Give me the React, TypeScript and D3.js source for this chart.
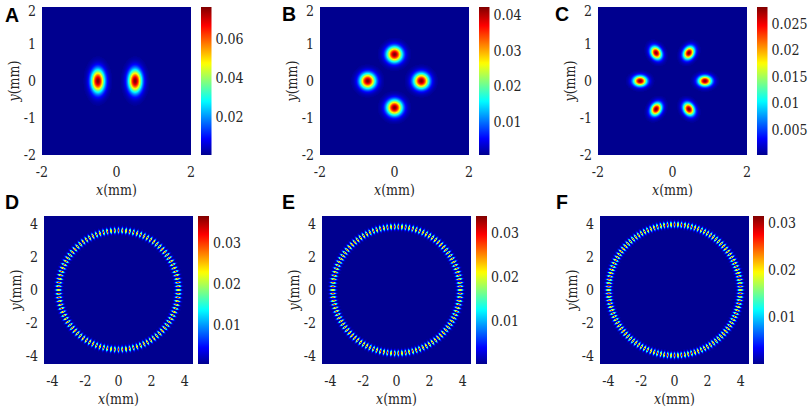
import React, { useMemo } from "react";
import * as d3 from "d3";

// ---------- data ----------
const panelLetters = ["A", "B", "C", "D", "E", "F"];

// spot centres (mm) for the top row
const spotsA: [number, number][] = [[-0.5, 0], [0.5, 0]];
const spotsB: [number, number][] = [[0, 0.72], [0.72, 0], [0, -0.72], [-0.72, 0]];
const spotsC: [number, number][] = [
  [0.87, 0], [0.44, 0.76], [-0.44, 0.76], [-0.87, 0], [-0.44, -0.76], [0.44, -0.76],
];
// spot widths (mm): radial, tangential
const spotSigmaA: [number, number] = [0.125, 0.215];
const spotSigmaB: [number, number] = [0.145, 0.145];
const spotSigmaC: [number, number] = [0.125, 0.095];

// ring panels D, E, F
const ringRadius = [3.62, 3.85, 3.98];
const ringSpotCount = [100, 110, 120];
const ringSigmaRadial = [0.11, 0.11, 0.11];
const ringSigmaTangential = [0.032, 0.032, 0.032];

// colour ranges and colourbar ticks
const colorMin = [0.0005, 0.0008, 0.0003, 0.0005, 0.0002, 0.0001];
const colorMax = [0.0764, 0.0422, 0.0282, 0.0366, 0.0339, 0.0315];
const colorTicks = [
  [0.02, 0.04, 0.06],
  [0.01, 0.02, 0.03, 0.04],
  [0.005, 0.01, 0.015, 0.02, 0.025],
  [0.01, 0.02, 0.03],
  [0.01, 0.02, 0.03],
  [0.01, 0.02, 0.03],
];

// axes
const smallExtent = 2;
const largeExtent = 4.5;
const smallXTicks = [-2, 0, 2];
const smallYTicks = [-2, -1, 0, 1, 2];
const largeXTicks = [-4, -2, 0, 2, 4];
const largeYTicks = [-4, -2, 0, 2, 4];

// ---------- layout ----------
const PW = 149;
const PH = 148;
const layout = [
  { left: 42, top: 7, cb: 201, cbw: 10.5, lx: 5, ly: 22 },
  { left: 320, top: 7, cb: 479, cbw: 10.5, lx: 282, ly: 21 },
  { left: 598, top: 7, cb: 757, cbw: 10.5, lx: 555, ly: 21 },
  { left: 44, top: 216, cb: 198, cbw: 11, lx: 5, ly: 209 },
  { left: 322, top: 216, cb: 476, cbw: 11, lx: 282, ly: 209 },
  { left: 600, top: 216, cb: 753, cbw: 11, lx: 556, ly: 209 },
];

const TICK_FONT = '"DejaVu Serif Condensed", "DejaVu Serif", serif';
const LETTER_FONT = '"Liberation Sans", Arial, Helvetica, sans-serif';
const TEXT_COLOR = "#262626";

// MATLAB jet(64), continuous
function jet(t: number): string {
  const p = 1 + Math.max(0, Math.min(1, t)) * 63;
  const r = p <= 24 ? 0 : p <= 40 ? (p - 24) / 16 : p <= 56 ? 1 : 1 - (p - 56) / 16;
  const g = p <= 8 ? 0 : p <= 24 ? (p - 8) / 16 : p <= 40 ? 1 : p <= 56 ? 1 - (p - 40) / 16 : 0;
  const b = p <= 8 ? (p + 8) / 16 : p <= 24 ? 1 : p <= 40 ? 1 - (p - 24) / 16 : 0;
  return d3.rgb(r * 255, g * 255, b * 255).formatHex();
}

function blobField(spots: [number, number][], sig: [number, number]) {
  return (x: number, y: number) => {
    let s = 0;
    for (const [cx, cy] of spots) {
      const phi = Math.atan2(cy, cx);
      const dx = x - cx;
      const dy = y - cy;
      const dr = dx * Math.cos(phi) + dy * Math.sin(phi);
      const dt = -dx * Math.sin(phi) + dy * Math.cos(phi);
      s += Math.exp(-(dr * dr) / (2 * sig[0] * sig[0]) - (dt * dt) / (2 * sig[1] * sig[1]));
    }
    return Math.min(1, s);
  };
}

function ringField(R: number, n: number, sr: number, st: number) {
  const step = (2 * Math.PI) / n;
  return (x: number, y: number) => {
    const r = Math.hypot(x, y);
    const dr = r - R;
    if (Math.abs(dr) > 5 * sr) return 0;
    const th = Math.atan2(y, x);
    const k = Math.round(th / step);
    const dt = r * (th - k * step);
    return Math.exp(-(dr * dr) / (2 * sr * sr) - (dt * dt) / (2 * st * st));
  };
}

const fields = [
  blobField(spotsA, spotSigmaA),
  blobField(spotsB, spotSigmaB),
  blobField(spotsC, spotSigmaC),
  ringField(ringRadius[0], ringSpotCount[0], ringSigmaRadial[0], ringSigmaTangential[0]),
  ringField(ringRadius[1], ringSpotCount[1], ringSigmaRadial[1], ringSigmaTangential[1]),
  ringField(ringRadius[2], ringSpotCount[2], ringSigmaRadial[2], ringSigmaTangential[2]),
];

const jetStops = d3.range(0, 65).map((i) => i / 64);

function Panel({ idx }: { idx: number }) {
  const L = layout[idx];
  const large = idx >= 3;
  const ext = large ? largeExtent : smallExtent;
  const xTicks = large ? largeXTicks : smallXTicks;
  const yTicks = large ? largeYTicks : smallYTicks;
  const xs = d3.scaleLinear().domain([-ext, ext]).range([L.left, L.left + PW]);
  const ys = d3.scaleLinear().domain([-ext, ext]).range([L.top + PH, L.top]);
  const cmin = colorMin[idx];
  const cmax = colorMax[idx];
  const cs = d3.scaleLinear().domain([cmin, cmax]).range([L.top + PH, L.top]);
  const tnorm = d3.scaleLinear().domain([cmin, cmax]).range([0, 1]).clamp(true);

  const cells = useMemo(() => {
    const f = fields[idx];
    const out: { x: number; y: number; c: string }[] = [];
    const SS = 3;
    for (let j = 0; j < PH; j++) {
      for (let i = 0; i < PW; i++) {
        let acc = 0;
        for (let a = 0; a < SS; a++) {
          for (let b = 0; b < SS; b++) {
            const px = L.left + i + (a + 0.5) / SS;
            const py = L.top + j + (b + 0.5) / SS;
            acc += f(xs.invert(px), ys.invert(py));
          }
        }
        const val = cmin + (cmax - cmin) * (acc / (SS * SS));
        const t = tnorm(val);
        if (t > 0.008) out.push({ x: L.left + i, y: L.top + j, c: jet(t) });
      }
    }
    return out;
  }, [idx]);

  const gradId = `jetgrad${idx}`;
  const cbRight = L.cb + L.cbw;
  const tickStyle = { fontFamily: TICK_FONT, fontSize: "14px", fontStretch: "condensed" };
  return (
    <g>
      <defs>
        <linearGradient id={gradId} x1="0" y1="1" x2="0" y2="0">
          {jetStops.map((s) => (
            <stop key={s} offset={s} stopColor={jet(s)} />
          ))}
        </linearGradient>
      </defs>
      <rect x={L.left} y={L.top} width={PW} height={PH} fill={jet(0)} />
      <g shapeRendering="crispEdges">
        {cells.map((c, k) => (
          <rect key={k} x={c.x} y={c.y} width={1} height={1} fill={c.c} />
        ))}
      </g>
      <rect x={L.cb} y={L.top} width={L.cbw} height={PH} fill={`url(#${gradId})`} />
      <g style={tickStyle} fill={TEXT_COLOR}>
        {xTicks.map((v) => (
          <text key={"x" + v} x={xs(v)} y={L.top + PH + 22} textAnchor="middle" style={tickStyle}>
            {String(v)}
          </text>
        ))}
        {yTicks.map((v) => (
          <text
            key={"y" + v}
            x={L.left - 6}
            y={Math.max(ys(v), L.top + 4)}
            dy="0.35em"
            textAnchor="end"
            style={tickStyle}
          >
            {String(v)}
          </text>
        ))}
        {colorTicks[idx].map((v) => (
          <text key={"c" + v} x={cbRight + 4} y={cs(v)} dy="0.35em" textAnchor="start" style={tickStyle}>
            {String(v)}
          </text>
        ))}
        <text x={L.left + PW / 2} y={L.top + PH + 40} textAnchor="middle" style={tickStyle}>
          <tspan fontStyle="italic">x</tspan>(mm)
        </text>
        <text
          transform={`translate(${L.left - 28},${L.top + PH / 2}) rotate(-90)`}
          dy="0.35em"
          textAnchor="middle"
          style={tickStyle}
        >
          <tspan fontStyle="italic">y</tspan>(mm)
        </text>
      </g>
      <text
        x={L.lx}
        y={L.ly}
        style={{ fontFamily: LETTER_FONT, fontWeight: "bold", fontSize: "19.5px" }}
        fill="#000"
      >
        {panelLetters[idx]}
      </text>
    </g>
  );
}

export default function App() {
  return (
    <svg
      width={809}
      height={410}
      viewBox="0 0 809 410"
      style={{ position: "absolute", left: 0, top: 0, background: "#fff" }}
    >
      <rect x={0} y={0} width={809} height={410} fill="#fff" />
      {panelLetters.map((_, i) => (
        <Panel key={i} idx={i} />
      ))}
    </svg>
  );
}
